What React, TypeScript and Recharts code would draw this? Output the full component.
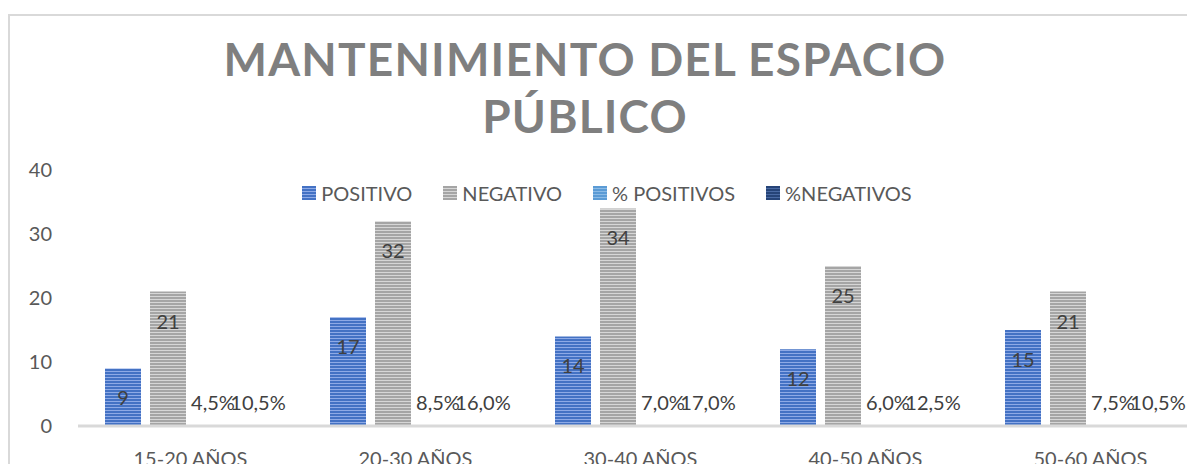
import { BarChart, Bar, XAxis, YAxis, Legend, LabelList } from 'recharts'

const categorias = ['15-20 AÑOS', '20-30 AÑOS', '30-40 AÑOS', '40-50 AÑOS', '50-60 AÑOS']
const positivo = [9, 17, 14, 12, 15]
const negativo = [21, 32, 34, 25, 21]
const pctPositivos = [0.045, 0.085, 0.07, 0.06, 0.075]
const pctNegativos = [0.105, 0.16, 0.17, 0.125, 0.105]
const yTicks = [0, 10, 20, 30, 40]

const data = categorias.map((c, i) => ({
  categoria: c,
  positivo: positivo[i],
  negativo: negativo[i],
  pctPos: pctPositivos[i],
  pctNeg: pctNegativos[i],
}))

const series = [
  { key: 'positivo', name: 'POSITIVO', fill: 'url(#rayasAzul)', base: '#4472C4', light: '#8eaae6', pct: false },
  { key: 'negativo', name: 'NEGATIVO', fill: 'url(#rayasGris)', base: '#A5A5A5', light: '#d6d6d6', pct: false },
  { key: 'pctPos', name: '% POSITIVOS', fill: '#5B9BD5', base: '#5B9BD5', light: '#8cbbe6', pct: true },
  { key: 'pctNeg', name: '%NEGATIVOS', fill: '#264478', base: '#264478', light: '#4a6aa3', pct: true },
]

const FONT = 'Lato, "Open Sans", sans-serif'

function fmtPct(v: number): string {
  return (v * 100).toFixed(1).replace('.', ',') + '%'
}

function makeLabel(pct: boolean) {
  return function EtiquetaBarra(props: any) {
    const { x, y, width, height, value } = props
    const cy = Math.min(y + 29, y + height - 24)
    return (
      <text
        x={x + width / 2}
        y={cy}
        textAnchor="middle"
        dominantBaseline="central"
        fontSize={20}
        fontFamily={FONT}
        fill="#404040"
      >
        {pct ? fmtPct(value) : value}
      </text>
    )
  }
}

function Leyenda() {
  return (
    <div style={{ display: 'flex', justifyContent: 'center', gap: 31, fontFamily: FONT, fontSize: 20, color: '#595959' }}>
      {series.map((s) => (
        <div key={s.key} style={{ display: 'flex', alignItems: 'center', gap: 5 }}>
          <span
            style={{
              display: 'inline-block',
              width: 14,
              height: 14,
              background: `repeating-linear-gradient(180deg, ${s.base} 0px, ${s.base} 2px, ${s.light} 2px, ${s.light} 3px)`,
            }}
          />
          <span>{s.name}</span>
        </div>
      ))}
    </div>
  )
}

export default function App() {
  return (
    <div style={{ position: 'fixed', left: 0, top: 0, width: 1187, height: 464, overflow: 'hidden', background: '#fff' }}>
      <div
        style={{
          position: 'absolute',
          left: 8,
          top: 14,
          width: 1400,
          height: 600,
          border: '2px solid #d9d9d9',
        }}
      />
      <div
        style={{
          position: 'absolute',
          left: 0,
          top: 30,
          width: 1170,
          textAlign: 'center',
          fontFamily: FONT,
          fontWeight: 700,
          fontSize: 46,
          lineHeight: '57px',
          letterSpacing: 1.2,
          color: '#7f7f7f',
        }}
      >
        MANTENIMIENTO DEL ESPACIO
        <br />
        PÚBLICO
      </div>
      <div style={{ position: 'absolute', left: 0, top: 0 }}>
        <BarChart
          width={1220}
          height={480}
          data={data}
          margin={{ top: 170, right: 17, bottom: 14, left: 0 }}
          barSize={36}
          barGap={9}
        >
          <defs>
            <pattern id="rayasAzul" patternUnits="userSpaceOnUse" width={4} height={3}>
              <rect width={4} height={3} fill="#4472C4" />
              <rect y={2} width={4} height={1} fill="#8eaae6" />
            </pattern>
            <pattern id="rayasGris" patternUnits="userSpaceOnUse" width={4} height={3}>
              <rect width={4} height={3} fill="#A5A5A5" />
              <rect y={2} width={4} height={1} fill="#d6d6d6" />
            </pattern>
          </defs>
          <XAxis
            dataKey="categoria"
            height={40}
            axisLine={{ stroke: '#d9d9d9', strokeWidth: 3 }}
            tickLine={false}
            tickSize={0}
            tickMargin={26}
            tick={{ fontSize: 20, fill: '#595959', fontFamily: FONT }}
            interval={0}
          />
          <YAxis
            width={78}
            domain={[0, 40]}
            ticks={yTicks}
            axisLine={false}
            tickLine={false}
            tickSize={0}
            tickMargin={26}
            tick={{ fontSize: 20, fill: '#595959', fontFamily: FONT }}
          />
          <Legend
            verticalAlign="middle"
            align="center"
            content={<Leyenda />}
            wrapperStyle={{ top: 181, left: 280, width: 654 }}
          />
          {series.map((s) => (
            <Bar key={s.key} dataKey={s.key} name={s.name} fill={s.fill} isAnimationActive={false}>
              <LabelList dataKey={s.key} content={makeLabel(s.pct)} />
            </Bar>
          ))}
        </BarChart>
      </div>
    </div>
  )
}
